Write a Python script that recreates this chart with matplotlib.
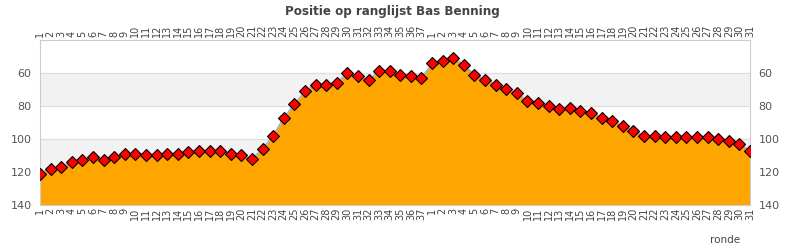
import matplotlib.pyplot as plt

# ronde-labels: seizoen 1 (1..37) en seizoen 2 (1..31)
rondes = [str(i) for i in range(1, 38)] + [str(i) for i in range(1, 32)]

posities = [121, 118, 117, 114, 113, 111, 113, 111, 109, 109,
            110, 110, 109, 109, 108, 107, 107, 107, 109, 110,
            112, 106, 98, 87, 79, 71, 67, 67, 66, 60,
            62, 64, 59, 59, 61, 62, 63,
            54, 53, 51, 55, 61, 64, 67, 70, 72, 77,
            78, 80, 82, 81, 83, 84, 87, 89, 92, 95,
            98, 98, 99, 99, 99, 99, 99, 100, 101, 103, 107]

x = list(range(len(posities)))

fig = plt.figure(figsize=(7.9, 2.5), dpi=100)
ax = fig.add_axes([40/790, 45/250, 710/790, 165/250])

ax.set_ylim(140, 40)
ax.set_xlim(0, len(posities) - 1)

# grijze banden
ax.axhspan(60, 80, color="#f2f2f2", zorder=0)
ax.axhspan(100, 120, color="#f2f2f2", zorder=0)
for g in [60, 80, 100, 120]:
    ax.axhline(g, color="#dddddd", lw=0.8, zorder=0.5)

ax.fill_between(x, posities, 140, color="#FFA500", zorder=1, lw=0)
ax.plot(x, posities, color="#7cb5ec", lw=1, zorder=2)
ax.plot(x, posities, ls="none", marker="D", ms=6.5, mfc="red", mec="black", mew=0.8, zorder=3)

ax.set_yticks([60, 80, 100, 120, 140])
ax.tick_params(axis="y", which="both", length=0, labelsize=8, labelcolor="#555555",
               left=True, right=True, labelleft=True, labelright=True, pad=6)
ax.set_xticks(x)
ax.set_xticklabels(rondes, rotation=90)
ax.tick_params(axis="x", length=0, labelsize=7, labelcolor="#444444",
               top=True, labeltop=True, bottom=True, labelbottom=True, pad=2)

for s in ax.spines.values():
    s.set_color("#cccccc")

fig.text(725/790, 1 - 240/250, "ronde", fontsize=7.5, color="#444444", ha="center", va="center")
fig.text(392/790, 1 - 11/250, "Positie op ranglijst Bas Benning", fontsize=9.5, fontweight="bold",
         fontstretch="condensed", color="#444444", ha="center", va="center", family="DejaVu Sans")

fig.savefig("out.png", dpi=100)
